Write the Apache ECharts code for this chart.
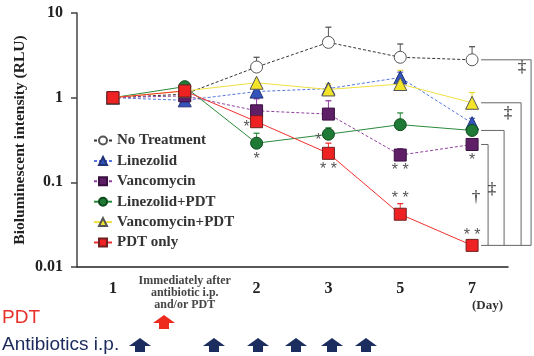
<!DOCTYPE html>
<html><head><meta charset="utf-8">
<script src="https://cdn.jsdelivr.net/npm/echarts@6/dist/echarts.min.js"></script>
<style>html,body{margin:0;padding:0;background:#fff}#c{width:534px;height:356px}</style>
</head><body><div id="c"></div>
<script>
// ---- data ----
const categories = ['1', 'Immediately after\nantibiotic i.p.\nand/or PDT', '2', '3', '5', '7'];
const yTicks = [0.01, 0.1, 1, 10];
const noTreatment     = [1, 1.10, 2.3, 4.5, 3.0, 2.8];
const noTreatmentErr  = [null, null, 3.0, 6.8, 4.3, 4.0];
const linezolid       = [1, 0.93, 1.18, 1.28, 1.73, 0.50];
const linezolidErr    = [null, null, null, null, 2.0, 0.57];
const vancomycin      = [1, 1.05, 0.70, 0.64, 0.21, 0.28];
const vancomycinErr   = [null, null, 0.97, 0.92, 0.25, 0.31];
const linezolidPdt    = [1, 1.35, 0.29, 0.37, 0.48, 0.41];
const linezolidPdtErr = [null, null, 0.38, 0.44, 0.66, 0.45];
const vancomycinPdt   = [1, 1.20, 1.50, 1.25, 1.45, 0.87];
const vancomycinPdtErr= [null, null, null, 1.45, 2.1, 1.15];
const pdtOnly         = [1, 1.20, 0.52, 0.22, 0.042, 0.018];
const pdtOnlyErr      = [null, null, null, 0.29, 0.056, 0.020];
// significance marks: [series, day index, text, side]
const sigMarks = [
  ['PDT only', 2, '*', 'left'],
  ['Linezolid+PDT', 2, '*', 'below'],
  ['Linezolid+PDT', 3, '*', 'left'],
  ['PDT only', 3, '* *', 'below'],
  ['Vancomycin', 4, '* *', 'below'],
  ['PDT only', 4, '* *', 'above'],
  ['Vancomycin', 5, '*', 'below'],
  ['PDT only', 5, '* *', 'above']
];

const SERIF = '"Liberation Serif","Times New Roman",serif';
const SANS = '"Liberation Sans",Arial,sans-serif';

const defs = [
  {name:'No Treatment', data:noTreatment, err:noTreatmentErr, symbol:'circle', size:12, fill:'#ffffff', border:'#555', line:'#333', lt:[3,2], ec:'#555'},
  {name:'Linezolid', data:linezolid, err:linezolidErr, symbol:'triangle', size:13, fill:'#3355bb', border:'#223377', line:'#5577dd', lt:[3,2], ec:'#5577dd'},
  {name:'Vancomycin', data:vancomycin, err:vancomycinErr, symbol:'rect', size:12, fill:'#5e1f66', border:'#3a1040', line:'#9040a0', lt:[3,2], ec:'#9040a0'},
  {name:'Linezolid+PDT', data:linezolidPdt, err:linezolidPdtErr, symbol:'circle', size:12, fill:'#1f7a35', border:'#0e4a1c', line:'#2a8a3c', lt:'solid', ec:'#2a8a3c'},
  {name:'Vancomycin+PDT', data:vancomycinPdt, err:vancomycinPdtErr, symbol:'triangle', size:13, fill:'#f2e428', border:'#555', line:'#f0e040', lt:'solid', ec:'#e8d830'},
  {name:'PDT only', data:pdtOnly, err:pdtOnlyErr, symbol:'rect', size:12, fill:'#ee2222', border:'#702020', line:'#f03030', lt:'solid', ec:'#f03030'}
];
const byName = {}; defs.forEach(d => byName[d.name] = d);

const series = [];
defs.forEach(d => {
  series.push({
    type:'custom', name:d.name + ' err', coordinateSystem:'cartesian2d', silent:true, z:2,
    data: d.err.map((e,i) => e == null ? null : [i, d.data[i], e]).filter(x => x),
    renderItem: (p, api) => {
      const a = api.coord([api.value(0), api.value(1)]);
      const b = api.coord([api.value(0), api.value(2)]);
      return {type:'group', children:[
        {type:'line', shape:{x1:a[0], y1:a[1], x2:b[0], y2:b[1]}, style:{stroke:d.ec, lineWidth:1}},
        {type:'line', shape:{x1:b[0]-3, y1:b[1], x2:b[0]+3, y2:b[1]}, style:{stroke:d.ec, lineWidth:1.3}}
      ]};
    }
  });
});
defs.forEach((d, k) => {
  series.push({
    type:'line', name:d.name, data:d.data, symbol:d.symbol, symbolSize:d.size, z:3 + k,
    showAllSymbol:true,
    lineStyle:{color:d.line, width:1, type:d.lt},
    itemStyle:{color:d.fill, borderColor:d.border, borderWidth:1, opacity:1},
    emphasis:{disabled:true}
  });
});

// significance asterisks
series.push({
  type:'custom', name:'sig', coordinateSystem:'cartesian2d', silent:true, z:20, clip:false,
  data: sigMarks.map(m => [m[1], byName[m[0]].data[m[1]]]),
  renderItem: (p, api) => {
    const m = sigMarks[p.dataIndex];
    const c = api.coord([api.value(0), api.value(1)]);
    let x = c[0], y = c[1];
    if (m[3] === 'left') { x -= 10; y += 6; }
    else if (m[3] === 'below') { y += 16; }
    else { y -= (p.dataIndex === 5 ? 16 : 10); }
    return {type:'text', style:{text:m[2], x:x, y:y, align:'center', verticalAlign:'middle',
      font:'16px ' + SANS, fill:'#555'}};
  }
});

// comparison brackets on the right
series.push({
  type:'custom', name:'brackets', coordinateSystem:'cartesian2d', silent:true, z:1, clip:false,
  data:[[5, 1]],
  renderItem: (p, api) => {
    const px = v => api.coord([5, v]);
    const x0 = px(1)[0] + 9;
    const yNo = px(noTreatment[5])[1], yVp = px(vancomycinPdt[5])[1];
    const yLp = px(linezolidPdt[5])[1], yVa = px(vancomycin[5])[1], yP = px(pdtOnly[5])[1];
    const xs = [x0 + 50, x0 + 40, x0 + 23, x0 + 7];
    const ys = [yNo, yVp, yLp, yVa];
    const st = {stroke:'#666', lineWidth:1};
    const ch = [];
    ys.forEach((y, i) => {
      ch.push({type:'line', shape:{x1:x0, y1:y, x2:xs[i], y2:y}, style:st});
      ch.push({type:'line', shape:{x1:xs[i], y1:y, x2:xs[i], y2:yP}, style:st});
    });
    ch.push({type:'line', shape:{x1:x0, y1:yP, x2:xs[0], y2:yP}, style:st});
    const t = (s, x, y) => ({type:'text', style:{text:s, x:x, y:y, align:'center', verticalAlign:'middle', font:'17px ' + SERIF, fill:'#222'}});
    ch.push(t('‡', x0 + 41, yNo + 8));
    ch.push(t('‡', x0 + 27, yVp + 11));
    ch.push(t('‡', x0 + 11, yP - 56));
    ch.push(t('†', x0 - 5, yP - 48));
    return {type:'group', children:ch};
  }
});

const arrow = (cx, top, color) => ({
  type:'polygon', silent:true,
  shape:{points:[[cx, top], [cx + 11, top + 8], [cx + 5, top + 8], [cx + 5, top + 14], [cx - 5, top + 14], [cx - 5, top + 8], [cx - 11, top + 8]]},
  style:{fill:color}
});

const chart = echarts.init(document.getElementById('c'), null, {renderer:'canvas'});
chart.setOption({
  animation:false,
  grid:{left:77, right:26, top:13, bottom:89, containLabel:false},
  legend:{
    orient:'vertical', left:88, top:128, itemWidth:18, itemHeight:10, itemGap:5.4,
    data: defs.map(d => d.name),
    textStyle:{fontFamily:SERIF, fontWeight:'bold', fontSize:15, color:'#333', lineHeight:14},
    selectedMode:false
  },
  xAxis:{
    type:'category', data:categories, boundaryGap:true,
    axisLine:{lineStyle:{color:'#222', width:1.5}},
    axisTick:{show:false},
    axisLabel:{
      interval:0, margin:8,
      formatter:(v, i) => i === 1 ? v.split('\n').map(l => '{s|' + l + '}').join('\n') : '{n|' + v + '}',
      rich:{
        n:{fontFamily:SERIF, fontWeight:'bold', fontSize:16, color:'#222', padding:[6,0,0,0]},
        s:{fontFamily:SERIF, fontWeight:'bold', fontSize:12, color:'#444', lineHeight:12}
      }
    }
  },
  yAxis:{
    type:'log', logBase:10, min:yTicks[0], max:yTicks[yTicks.length - 1],
    name:'Bioluminescent intensity (RLU)', nameLocation:'middle', nameGap:49, nameMoveOverlap:false,
    nameTextStyle:{fontFamily:SERIF, fontWeight:'bold', fontSize:15.5, color:'#222'},
    axisLine:{show:true, lineStyle:{color:'#444', width:1.5}},
    axisTick:{show:true, length:6, lineStyle:{color:'#444', width:1.5}},
    minorTick:{show:false}, splitLine:{show:false},
    axisLabel:{fontFamily:SERIF, fontWeight:'bold', fontSize:16, color:'#222', margin:14,
      formatter: v => String(v)}
  },
  graphic:[
    {type:'text', left:472, top:299, silent:true, style:{text:'(Day)', font:'bold 13px ' + SERIF, fill:'#333'}},
    {type:'text', left:2, top:308, silent:true, style:{text:'PDT', font:'19px ' + SANS, fill:'#e8302a'}},
    {type:'text', left:2, top:335, silent:true, style:{text:'Antibiotics i.p.', font:'19px ' + SANS, fill:'#1b2a5c'}},
    arrow(164, 315, '#ee2a1e'),
    arrow(140, 338, '#1b2d5e'),
    arrow(214, 338, '#1b2d5e'),
    arrow(258, 338, '#1b2d5e'),
    arrow(296, 338, '#1b2d5e'),
    arrow(332, 338, '#1b2d5e'),
    arrow(366, 338, '#1b2d5e')
  ],
  series:series
});
</script>
</body></html>
